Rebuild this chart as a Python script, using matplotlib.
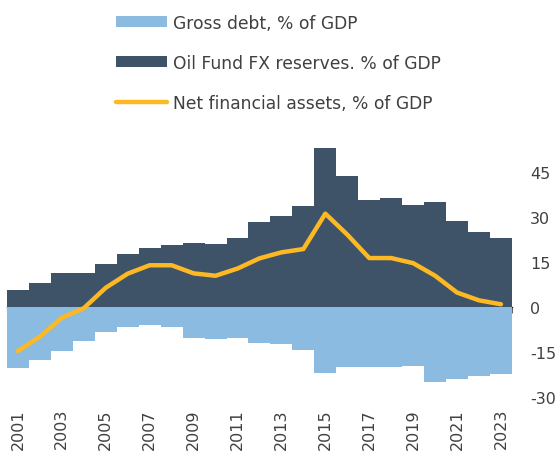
import matplotlib.pyplot as plt
from matplotlib.patches import Patch
from matplotlib.lines import Line2D
import numpy as np

plt.rcParams['axes.unicode_minus'] = False

years = list(range(2001, 2024))
gross_debt = [-20.5, -17.6, -14.8, -11.4, -8.2, -6.7, -5.9, -6.7, -10.3, -10.8, -10.3, -12.0,
              -12.2, -14.4, -21.9, -19.9, -19.9, -20.1, -19.8, -25.0, -24.0, -22.9, -22.2]
oil_fund = [5.8, 7.9, 11.4, 11.3, 14.3, 17.5, 19.7, 20.8, 21.3, 21.0, 23.1, 28.3,
            30.4, 33.8, 53.0, 43.8, 35.8, 36.3, 34.1, 35.1, 28.5, 24.9, 23.0]
net_assets = [-14.7, -9.9, -3.6, -0.4, 6.4, 11.1, 13.9, 13.9, 11.2, 10.4, 12.8, 16.2,
              18.2, 19.3, 31.1, 24.1, 16.3, 16.3, 14.6, 10.4, 4.8, 2.2, 0.9]
yticks = [-30, -15, 0, 15, 30, 45]

c_debt = '#8cbbe2'
c_fund = '#3f5368'
c_net = '#fcb923'
c_text = '#404040'

fig = plt.figure(figsize=(5.58, 4.52), dpi=100)
ax = fig.add_axes([0.0125, 0.1195, 0.905, 0.5975])

x = np.arange(len(years))
ax.bar(x, gross_debt, width=1.0, color=c_debt, edgecolor='none')
ax.bar(x, oil_fund, width=1.0, color=c_fund, edgecolor='none')
ax.plot(x, net_assets, color=c_net, linewidth=3.2, solid_capstyle='round', solid_joinstyle='round')

ax.set_xlim(-0.5, len(years) - 0.5)
ax.set_ylim(-30, 60)

for s in ax.spines.values():
    s.set_visible(False)

ax.yaxis.tick_right()
ax.set_yticks(yticks)
ax.tick_params(axis='y', length=0, pad=13, labelsize=11.5, labelcolor=c_text)
for lbl in ax.get_yticklabels():
    lbl.set_horizontalalignment('left')

ax.set_xticks(x[::2])
ax.set_xticklabels([str(y) for y in years[::2]], rotation=90, fontsize=11.5, color=c_text)
ax.tick_params(axis='x', length=0, pad=8)

# zero line with category ticks
zero = ax.secondary_xaxis(30 / 90)
zero.set_xticks(np.arange(-0.5, len(years), 1.0))
zero.set_xticklabels([])
zero.tick_params(axis='x', length=4, width=0.8, color='#666666', direction='out')
zero.spines['bottom'].set_color('#222222')
zero.spines['bottom'].set_linewidth(1.0)

handles = [Patch(facecolor=c_debt, edgecolor='none'),
           Patch(facecolor=c_fund, edgecolor='none'),
           Line2D([0], [0], color=c_net, linewidth=3.2, solid_capstyle='round')]
labels = ['Gross debt, % of GDP', 'Oil Fund FX reserves. % of GDP', 'Net financial assets, % of GDP']
fig.legend(handles, labels, loc='upper left', bbox_to_anchor=(0.182, 1.0), frameon=False,
           fontsize=12.3, labelcolor=c_text, handlelength=3.0, handleheight=0.6,
           handletextpad=0.35, labelspacing=1.3, borderaxespad=0.45)

fig.savefig('out.png', dpi=100)
